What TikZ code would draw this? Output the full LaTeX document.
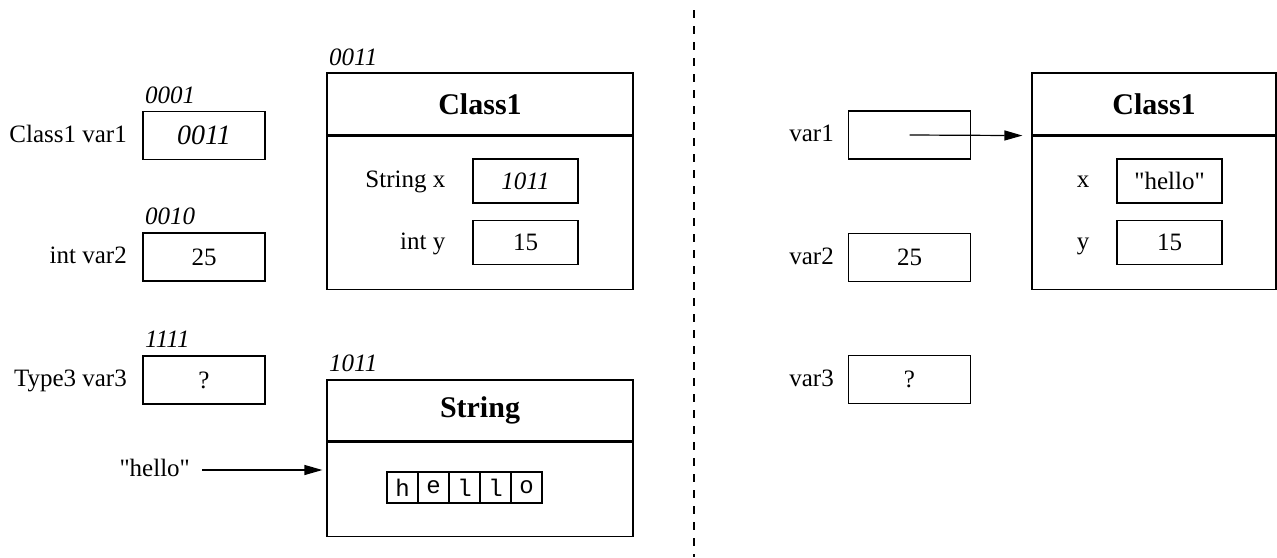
\documentclass[tikz,border=0pt]{standalone}
\usepackage{fontspec}
\setmainfont{Liberation Serif}
\setmonofont{Liberation Mono}
\usetikzlibrary{positioning,arrows.meta}

\begin{document}
\begin{tikzpicture}[x=0.5pt,y=0.5pt,yscale=-1,xscale=1,
  font=\fontsize{12.5}{15}\selectfont,
  line width=0.6pt,
  varbox/.style={draw, minimum width=61pt, minimum height=24pt, inner sep=0pt},
  fieldbox/.style={draw, minimum width=52.5pt, minimum height=22pt, inner sep=0pt},
  addr/.style={anchor=south west, inner sep=0.75pt, font=\fontsize{12.5}{15}\selectfont\itshape},
  lbl/.style={inner sep=0.75pt, text height=0.676em, text depth=0pt},
  titlebox/.style={draw, inner sep=0pt, font=\fontsize{15}{18}\selectfont\bfseries},
  bodybox/.style={draw, anchor=north, inner sep=0pt},
  cell/.style={draw, minimum width=15.5pt, minimum height=15.5pt, inner sep=0pt, font=\fontsize{12}{14}\selectfont\ttfamily},
  ptr/.style={-{Triangle[length=9pt,width=5pt]}},
]
  \useasboundingbox (0,0) rectangle (1277,557);
  %separator
  \draw [dash pattern=on 4pt off 4pt] (694,10) -- (694,557);

  % left: variables
  \node [varbox] (var1) at (204,135.5) {\fontsize{14}{16}\selectfont\itshape 0011};
  \node [varbox] (var2) at (204,257) {25};
  \node [varbox] (var3) at (204,380) {?};
  \node [lbl, left=6.75pt of var1] (var1lbl) {Class1 var1};
  \node [lbl, left=6.75pt of var2] (var2lbl) {int var2};
  \node [lbl, left=6.75pt of var3] (var3lbl) {Type3 var3};
  \node [addr] (var1addr) at (143,106) {0001};
  \node [addr] (var2addr) at (143,227) {0010};
  \node [addr] (var3addr) at (143,350) {1111};

  % left: Class1 object
  \node [titlebox, minimum width=153pt, minimum height=31pt] (cls1title) at (480,104) {Class1};
  \node [bodybox, minimum width=153pt, minimum height=76.5pt] (cls1body) at (cls1title.south) {};
  \node [addr] (cls1addr) at (327,68) {0011};
  \node [fieldbox] (fx) at (525.5,181) {\itshape 1011};
  \node [fieldbox] (fy) at (525.5,242.5) {15};
  \node [lbl, left=12.5pt of fx] (fxlbl) {String x};
  \node [lbl, left=12.5pt of fy] (fylbl) {int y};

  % left: String object
  \node [titlebox, minimum width=153pt, minimum height=30.5pt] (strtitle) at (480,410.5) {String};
  \node [bodybox, minimum width=153pt, minimum height=47pt] (strbody) at (strtitle.south) {};
  \node [addr] (straddr) at (327,374) {1011};
  \foreach \ch [count=\i from 0] in {h,e,l,l,o}
    \node [cell] (c\i) at (402.5+31*\i,487.5) {\ch};
  \node [lbl, anchor=east] (hellolbl) at (192,470) {\textquotedbl hello\textquotedbl};
  \draw [ptr, shorten <=5pt, shorten >=2pt] (hellolbl.east) -- (hellolbl.east -| strbody.west);

  % right: variables
  \node [varbox] (rvar1) at (909.5,135) {};
  \node [varbox] (rvar2) at (909.5,257.5) {25};
  \node [varbox] (rvar3) at (909.5,379.5) {?};
  \node [lbl, left=6pt of rvar1] (rvar1lbl) {var1};
  \node [lbl, left=6pt of rvar2] (rvar2lbl) {var2};
  \node [lbl, left=6pt of rvar3] (rvar3lbl) {var3};

  % right: Class1 object
  \node [titlebox, minimum width=122pt, minimum height=31pt] (rclstitle) at (1154,104) {Class1};
  \node [bodybox, minimum width=122pt, minimum height=76.5pt] (rclsbody) at (rclstitle.south) {};
  \node [fieldbox] (rfx) at (1169.5,181) {\textquotedbl hello\textquotedbl};
  \node [fieldbox] (rfy) at (1169.5,242.5) {15};
  \node [lbl, left=12.5pt of rfx] (rfxlbl) {x};
  \node [lbl, left=12.5pt of rfy] (rfylbl) {y};
  \draw [ptr, shorten >=4.5pt] (rvar1.center) -- (rclstitle.south west);
\end{tikzpicture}
\end{document}
